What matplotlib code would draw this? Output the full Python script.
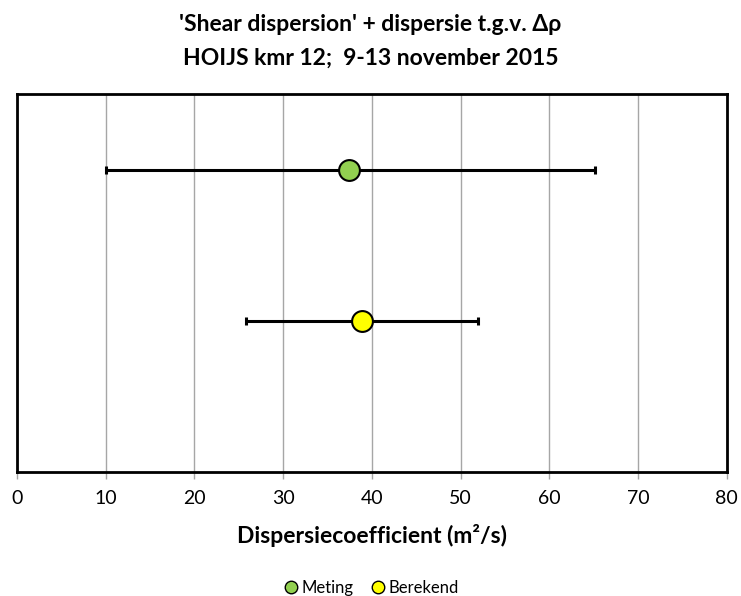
import matplotlib
matplotlib.use("Agg")
import matplotlib.pyplot as plt
from matplotlib.lines import Line2D

plt.rcParams['font.family'] = ['Lato', 'DejaVu Sans']

series = ["Meting", "Berekend"]
values = [37.4, 38.9]
ypos = [2.0, 1.0]
err_low = [10.0, 25.8]
err_high = [65.1, 51.9]
colors = ["#92D050", "#FFFF00"]
xticks = [0, 10, 20, 30, 40, 50, 60, 70, 80]

fig = plt.figure(figsize=(7.41, 5.96), dpi=100)
ax = fig.add_axes([0.0229, 0.208, 0.958, 0.634])

for name, v, y, lo, hi, c in zip(series, values, ypos, err_low, err_high, colors):
    ax.errorbar([v], [y], xerr=[[v - lo], [hi - v]], fmt='none', ecolor='black',
                elinewidth=2.2, capsize=3, capthick=2.2, zorder=3)
    ax.plot([v], [y], 'o', markersize=15, markerfacecolor=c, markeredgecolor='black',
            markeredgewidth=1.5, zorder=4, label=name)

ax.set_xlim(0, 80)
ax.set_ylim(0, 2.5)
ax.set_xticks(xticks)
ax.set_xticklabels([str(t) for t in xticks], fontsize=14)
ax.set_yticks([])
ax.grid(axis='x', color='#A6A6A6', linewidth=1)
ax.set_axisbelow(True)
for s in ax.spines.values():
    s.set_linewidth(2)
    s.set_color('black')
ax.tick_params(axis='x', direction='out', length=5, width=1, color='#A6A6A6', pad=8)

ax.set_xlabel("Dispersiecoefficient (m²/s)", fontsize=16.5, fontweight='bold', labelpad=12)

fig.text(0.5, 0.959, "'Shear dispersion' + dispersie t.g.v. Δρ", ha='center', va='center',
         fontsize=16.5, fontweight='bold')
fig.text(0.5, 0.902, "HOIJS kmr 12;  9-13 november 2015", ha='center', va='center',
         fontsize=16.5, fontweight='bold')

handles = [Line2D([0], [0], marker='o', linestyle='none', markersize=9,
                  markerfacecolor=c, markeredgecolor='black', markeredgewidth=1) for c in colors]
fig.legend(handles, series, loc='center', bbox_to_anchor=(0.5, 0.013), ncol=2, frameon=False,
           fontsize=12, handletextpad=0.1, columnspacing=1.0, handlelength=1)

fig.savefig("out.png", dpi=100)
